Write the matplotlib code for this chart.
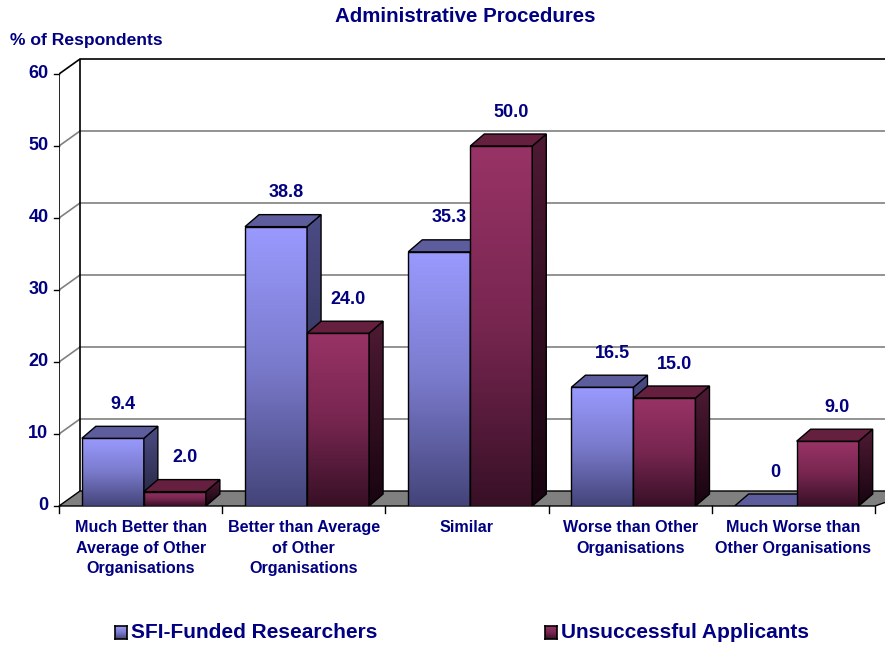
import numpy as np
import matplotlib
matplotlib.use('Agg')
import matplotlib.pyplot as plt
from matplotlib.patches import Polygon
from matplotlib.colors import LinearSegmentedColormap

plt.rcParams['font.family'] = ['Liberation Sans', 'DejaVu Sans']
plt.rcParams['font.weight'] = 'bold'

# data
categories = ['Much Better than\nAverage of Other\nOrganisations',
              'Better than Average\nof Other\nOrganisations',
              'Similar',
              'Worse than Other\nOrganisations',
              'Much Worse than\nOther Organisations']
sfi = [9.4, 38.8, 35.3, 16.5, 0]
uns = [2.0, 24.0, 50.0, 15.0, 9.0]
series_names = ['SFI-Funded Researchers', 'Unsuccessful Applicants']
yticks = [0, 10, 20, 30, 40, 50, 60]

navy = '#000080'
W, H = 885, 645
fig = plt.figure(figsize=(W / 100, H / 100), dpi=100)

# pixel layout of the plot box (front plane)
px_left, px_bottom, px_cat, px_unit = 59, 506, 163.2, 7.2
ax = fig.add_axes([px_left / W, (H - px_bottom) / H, (W - px_left) / W, (px_bottom - 59) / H])
xmax = (W - px_left) / px_cat
ymax = (px_bottom - 59) / px_unit
ax.set_xlim(0, xmax)
ax.set_ylim(0, ymax)
ax.axis('off')

# depth offsets (wall and bars)
dxw, dyw = 21 / px_cat, 15 / px_unit
dxb, dyb = 14 / px_cat, 12 / px_unit
ncat = len(categories)

# floor
floor = Polygon([(0, 0), (dxw, dyw), (xmax + 0.2, dyw), (ncat, 0)], closed=True,
                facecolor='#808080', edgecolor='black', lw=1, zorder=1, clip_on=False)
ax.add_patch(floor)

# back wall gridlines + side wall diagonals
for t in yticks[1:]:
    c = 'black' if t == 60 else '#808080'
    ax.plot([dxw, xmax + 0.2], [t + dyw, t + dyw], color=c, lw=1.2, zorder=0.5, clip_on=False)
    ax.plot([0, dxw], [t, t + dyw], color=c, lw=1.2, zorder=0.5)
ax.plot([0, 0], [0, 60], color='black', lw=1.2, zorder=2)
ax.plot([dxw, dxw], [dyw, 60 + dyw], color='black', lw=1.2, zorder=0.6)

# y ticks
for t in yticks:
    ax.plot([-0.031, 0], [t, t], color='black', lw=1, clip_on=False)
    ax.text(-0.065, t, str(t), ha='right', va='center', fontsize=13,
            color=navy, fontweight='bold')

# x ticks and category labels
for i in range(ncat + 1):
    ax.plot([i, i], [0, -1.0], color='black', lw=1, clip_on=False)
for i, lab in enumerate(categories):
    ax.text(i + 0.5, -2.0, lab, ha='center', va='top', fontsize=11.6, color=navy,
            fontweight='bold', linespacing=1.45)

front_maps = [LinearSegmentedColormap.from_list('s', ['#44447a', '#7a7acc', '#9a9aff']),
              LinearSegmentedColormap.from_list('u', ['#381026', '#772650', '#993366'])]
side_maps = [LinearSegmentedColormap.from_list('ss', ['#24243e', '#4c4c86']),
             LinearSegmentedColormap.from_list('us', ['#180410', '#4e1a34'])]
top_cols = ['#5d5d9e', '#66203f']
grad = np.linspace(0, 1, 256).reshape(-1, 1)


def grad_face(pts, cmap, z):
    poly = Polygon(pts, closed=True, facecolor='none', edgecolor='black', lw=1, zorder=z + 0.05)
    ax.add_patch(poly)
    xs = [p[0] for p in pts]
    ys = [p[1] for p in pts]
    im = ax.imshow(grad, extent=(min(xs), max(xs), min(ys), max(ys)), cmap=cmap,
                   origin='lower', aspect='auto', zorder=z, interpolation='bilinear')
    im.set_clip_path(poly)


bw, off = 0.38, 0.14
z = 3
for i in range(ncat):
    for s, vals in enumerate([sfi, uns]):
        v = vals[i]
        x0 = i + off + s * bw
        x1 = x0 + bw
        if v > 0:
            grad_face([(x0, 0), (x1, 0), (x1, v), (x0, v)], front_maps[s], z)
            grad_face([(x1, 0), (x1 + dxb, dyb), (x1 + dxb, v + dyb), (x1, v)], side_maps[s], z + 0.1)
        ax.add_patch(Polygon([(x0, v), (x1, v), (x1 + dxb, v + dyb), (x0 + dxb, v + dyb)],
                             closed=True, facecolor=top_cols[s], edgecolor='black',
                             lw=1, zorder=z + 0.2))
        lab = f'{v:.1f}' if v else '0'
        ax.text((x0 + x1) / 2 + 0.06, v + 4.7, lab, ha='center', va='center',
                fontsize=13, color=navy, fontweight='bold', zorder=20)
        z += 1

ax.set_xlim(0, xmax)
ax.set_ylim(0, ymax)

# titles
fig.text(465 / W, 1 - 17 / H, 'Administrative Procedures', ha='center', va='center',
         fontsize=14.8, color=navy, fontweight='bold')
fig.text(10 / W, 1 - 40 / H, '% of Respondents', ha='left', va='center',
         fontsize=12.6, color=navy, fontweight='bold')

# legend
leg_x = [115, 545]
for s, name in enumerate(series_names):
    lax = fig.add_axes([leg_x[s] / W, (H - 639) / H, 12 / W, 13 / H])
    lax.imshow(grad, cmap=front_maps[s], origin='lower', aspect='auto')
    lax.set_xticks([])
    lax.set_yticks([])
    for sp in lax.spines.values():
        sp.set_linewidth(1.2)
    fig.text((leg_x[s] + 16) / W, 1 - 632 / H, name, ha='left', va='center',
             fontsize=15, color=navy, fontweight='bold')

fig.savefig('out.png', dpi=100)
